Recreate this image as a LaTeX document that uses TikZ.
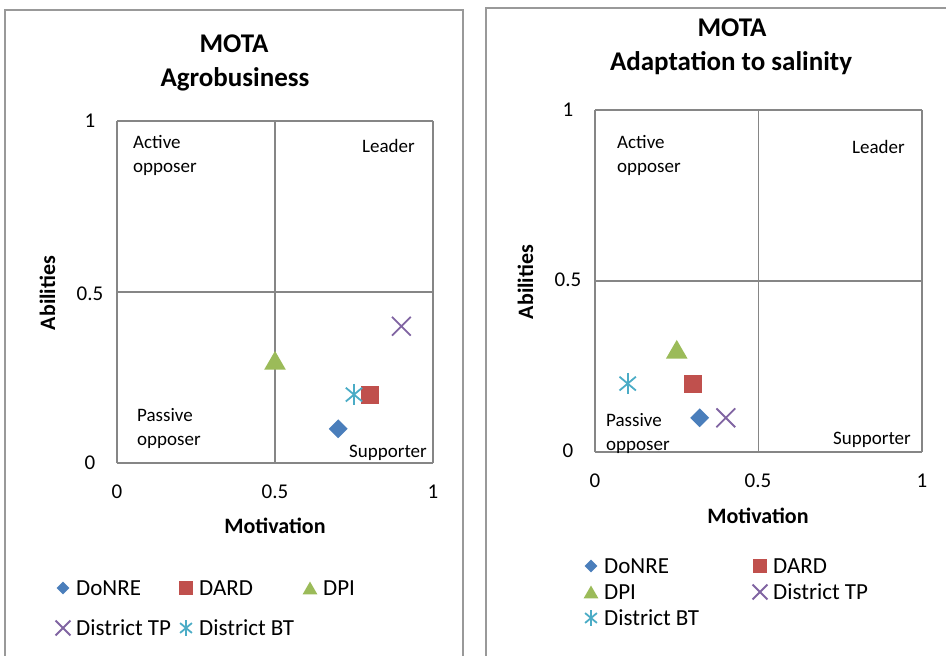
\documentclass[tikz,border=0pt]{standalone}
\usepackage{fontspec}
\setmainfont{Carlito}
\usetikzlibrary{shapes.geometric,shapes.misc}
\definecolor{donreblue}{HTML}{4A7EBB}
\definecolor{dardred}{HTML}{C0504D}
\definecolor{dpigreen}{HTML}{9BBB59}
\definecolor{tppurple}{HTML}{8064A2}
\definecolor{btcyan}{HTML}{4BACC6}
\definecolor{gridgray}{HTML}{868686}
\definecolor{panelgray}{HTML}{999999}
\tikzset{
	panel/.style={draw=panelgray, line width=1.6pt},
	gridline/.style={draw=gridgray, line width=1.3pt},
	charttitle/.style={font=\fontsize{27}{32}\selectfont\bfseries, anchor=base},
	axistitle/.style={font=\fontsize{22}{26}\selectfont\bfseries, anchor=base},
	ticklabel/.style={font=\fontsize{21}{25}\selectfont, anchor=base},
	quadlabel/.style={font=\fontsize{19}{24}\selectfont, align=left, inner sep=0pt},
	legendtext/.style={font=\fontsize{23}{27}\selectfont, anchor=base west, inner sep=0pt},
	donre/.style={diamond, fill=donreblue, inner sep=0pt, minimum size=#1},
	donre/.default=19pt,
	dard/.style={rectangle, fill=dardred, inner sep=0pt, minimum size=#1},
	dard/.default=18pt,
	dpi/.style={regular polygon, regular polygon sides=3, fill=dpigreen, inner sep=0pt, minimum size=#1, yshift=-0.12*#1},
	dpi/.default=25pt,
	tp/.style={cross out, draw=tppurple, line width=1.8pt, inner sep=0pt, minimum size=#1},
	tp/.default=17pt,
	btarm/.style={draw=btcyan, line width=1.8pt},
	bt/.style={circle, inner sep=0pt, minimum size=#1, append after command={
		(\tikzlastnode.90) edge[btarm] (\tikzlastnode.270)
		(\tikzlastnode.40) edge[btarm] (\tikzlastnode.220)
		(\tikzlastnode.140) edge[btarm] (\tikzlastnode.320)}},
	bt/.default=21pt,
}
\begin{document}
\begin{tikzpicture}[x=1pt, y=-1pt]
	\useasboundingbox (0,0) rectangle (946,656);
	% left chart
	\draw[panel] (5,10) rectangle (463,664);
	\node[charttitle] (A-title1) at (234,52) {MOTA};
	\node[charttitle] (A-title2) at (235,86) {Agrobusiness};
	\begin{scope}[shift={(117,463)}, x=316pt, y=342pt]
		\draw[gridline] (0,0) grid[step=0.5] (1,1);
		\node[donre] (A-donre) at (0.7,0.1) {};
		\node[dard] (A-dard) at (0.8,0.2) {};
		\node[dpi] (A-dpi) at (0.5,0.3) {};
		\node[tp] (A-tp) at (0.9,0.4) {};
		\node[bt] (A-bt) at (0.75,0.2) {};
	\end{scope}
	\foreach \v/\y [count=\k] in {1/127,0.5/300,0/469}{
		\node[ticklabel] (A-y\k) at (90,\y) {\v};
	}
	\foreach \v/\x [count=\k] in {0/117,0.5/275,1/433}{
		\node[ticklabel] (A-x\k) at (\x,498) {\v};
	}
	\node[axistitle] (A-xlabel) at (275,533) {Motivation};
	\node[axistitle, rotate=90] (A-ylabel) at (55,293) {Abilities};
	\node[quadlabel, anchor=base west] (A-active) at (133,172) {Active\\opposer};
	\node[quadlabel, anchor=base east] (A-leader) at (415,152) {Leader};
	\node[quadlabel, anchor=base west] (A-passive) at (137,445) {Passive\\opposer};
	\node[quadlabel, anchor=base east] (A-supporter) at (427,457) {Supporter};
	\foreach \s/\m/\x/\y/\t [count=\k] in {donre/13pt/63/588/DoNRE, dard/14pt/186/588/DARD, dpi/17pt/310/588/DPI, tp/13pt/63/628/District TP, bt/15pt/186/628/District BT}{
		\node[\s=\m] (A-mark\k) at (\x,\y) {};
		\node[legendtext] (A-entry\k) at (\x+13,\y+7) {\t};
	}
	% right chart
	\draw[panel] (486,8) rectangle (952,664);
	\node[charttitle] (B-title1) at (732,36) {MOTA};
	\node[charttitle] (B-title2) at (731,70) {Adaptation to salinity};
	\begin{scope}[shift={(595,452)}, x=327pt, y=342pt]
		\draw[gridline] (0,0) grid[step=0.5] (1,1);
		\node[dpi] (B-dpi) at (0.25,0.3) {};
		\node[dard] (B-dard) at (0.3,0.2) {};
		\node[donre] (B-donre) at (0.32,0.1) {};
		\node[tp] (B-tp) at (0.4,0.1) {};
		\node[bt] (B-bt) at (0.1,0.2) {};
	\end{scope}
	\foreach \v/\y [count=\k] in {1/116,0.5/286,0/457}{
		\node[ticklabel] (B-y\k) at (568,\y) {\v};
	}
	\foreach \v/\x [count=\k] in {0/595,0.5/758,1/922}{
		\node[ticklabel] (B-x\k) at (\x,487) {\v};
	}
	\node[axistitle] (B-xlabel) at (758,523) {Motivation};
	\node[axistitle, rotate=90] (B-ylabel) at (533,282) {Abilities};
	\node[quadlabel, anchor=base west] (B-active) at (617,172) {Active\\opposer};
	\node[quadlabel, anchor=base east] (B-leader) at (905,153) {Leader};
	\node[quadlabel, anchor=base west] (B-passive) at (606,450) {Passive\\opposer};
	\node[quadlabel, anchor=base east] (B-supporter) at (911,444) {Supporter};
	\foreach \s/\m/\x/\y/\t [count=\k] in {donre/13pt/591/566/DoNRE, dard/14pt/760/566/DARD, dpi/17pt/591/592/DPI, tp/13pt/760/592/District TP, bt/15pt/591/618/District BT}{
		\node[\s=\m] (B-mark\k) at (\x,\y) {};
		\node[legendtext] (B-entry\k) at (\x+13,\y+7) {\t};
	}
\end{tikzpicture}
\end{document}
